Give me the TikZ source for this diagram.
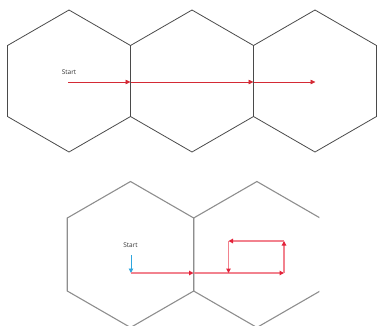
\documentclass[tikz,border=0pt]{standalone}
\usepackage{fontspec}
\setmainfont{Open Sans}
\usetikzlibrary{shapes.geometric,arrows.meta}
\definecolor{hexdark}{HTML}{4A4A4A}
\definecolor{hexgray}{HTML}{8E8E8E}
\definecolor{redtop}{HTML}{D42A35}
\definecolor{redline}{HTML}{F2828E}
\definecolor{redtip}{HTML}{E3223A}
\definecolor{bluearr}{HTML}{2FA6DE}
\tikzset{
  hextop/.style={regular polygon, regular polygon sides=6, shape border rotate=30,
    minimum size=142pt, inner sep=0pt, outer sep=0pt, draw=hexdark, line width=0.8pt},
  hexbot/.style={regular polygon, regular polygon sides=6, shape border rotate=30,
    minimum size=146pt, inner sep=0pt, outer sep=0pt, draw=hexgray, line width=1.1pt},
  lbl/.style={font=\fontsize{6.5}{7}\selectfont, text=black!80, inner sep=0pt},
  toparrow/.style={draw=redtop, line width=0.7pt, -{Triangle[length=5pt,width=4.5pt]}},
  botarrow/.style={draw=redline, line width=1.1pt, -{Triangle[length=4.5pt,width=4.5pt,color=redtip]}},
  bluearrow/.style={draw=bluearr, line width=0.9pt, -{Triangle[length=4.5pt,width=4.5pt]}}
}
\begin{document}
\begin{tikzpicture}[x=1pt,y=-1pt]
\useasboundingbox (0,0) rectangle (377,325);
% top hexagons
\node[hextop] (h1) at (69,81) {};
\node[hextop] (h2) at (192,81) {};
\node[hextop] (h3) at (315,81) {};
\node[lbl] (start1) at (69,72) {Start};
\coordinate (a0) at (68,82);
\coordinate (a1) at (130.5,82);
\coordinate (a2) at (253.5,82);
\coordinate (a3) at (315.5,82);
\draw[toparrow] (a0) -- (a1);
\draw[toparrow] (a1) -- (a2);
\draw[toparrow] (a2) -- (a3);
% bottom hexagons
\begin{scope}
\clip (0,165) rectangle (319.4,325);
\node[hexbot] (g1) at (130.5,254.5) {};
\node[hexbot] (g2) at (256.9,254.5) {};
\end{scope}
\node[lbl] (start2) at (130.5,245) {Start};
\coordinate (b0) at (131,255);
\coordinate (b1) at (131,273);
\coordinate (b2) at (193.5,273);
\coordinate (b3) at (284,273);
\coordinate (b4) at (284,241);
\coordinate (b5) at (228.5,241);
\coordinate (b6) at (228.5,273);
\draw[bluearrow] (b0) -- (b1);
\draw[botarrow] (b1) -- (b2);
\draw[botarrow] (b2) -- (b3);
\draw[botarrow] (b3) -- (b4);
\draw[botarrow] (b4) -- (b5);
\draw[botarrow] (b5) -- (b6);
\end{tikzpicture}
\end{document}
